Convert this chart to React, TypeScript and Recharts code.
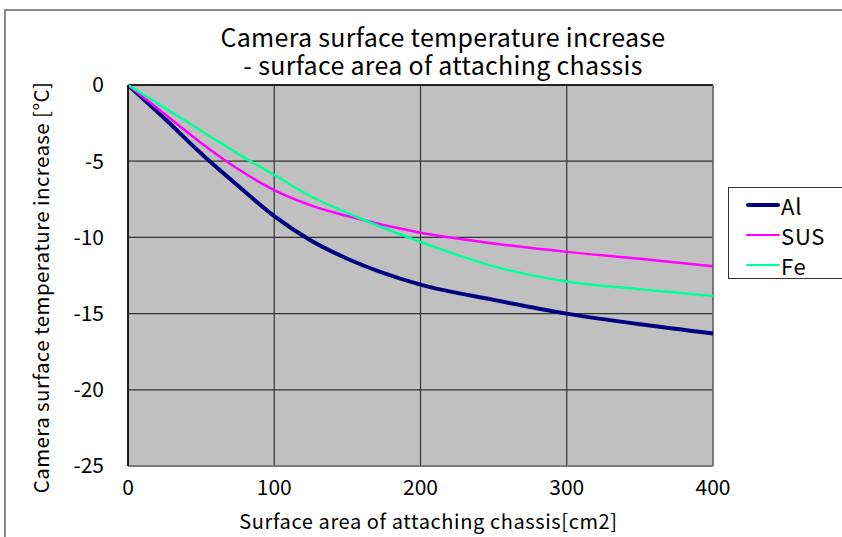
import { LineChart, Line, XAxis, YAxis, CartesianGrid, ReferenceLine } from 'recharts';

// surface area of attaching chassis [cm2]
const areas = [0, 25, 50, 75, 100, 125, 150, 200, 250, 300, 350, 400];
// temperature increase [°C]
const al = [0, -2.2, -4.5, -6.6, -8.6, -10.2, -11.4, -13.1, -14.1, -15.0, -15.7, -16.3];
const sus = [0, -1.9, -3.8, -5.5, -6.9, -7.9, -8.6, -9.7, -10.4, -10.95, -11.4, -11.9];
const fe = [0, -1.5, -3.0, -4.5, -5.9, -7.3, -8.4, -10.3, -11.9, -12.9, -13.4, -13.85];

const xTicks = [0, 100, 200, 300, 400];
const yTicks = [0, -5, -10, -15, -20, -25];

const titleLines = ['Camera surface temperature increase', '- surface area of attaching chassis'];

const series = [
  { key: 'Al', values: al, color: '#000080', width: 4 },
  { key: 'SUS', values: sus, color: '#ff00ff', width: 2.5 },
  { key: 'Fe', values: fe, color: '#00ff99', width: 2.5 },
];

const chartData = areas.map((a, i) => ({
  area: a,
  Al: al[i],
  SUS: sus[i],
  Fe: fe[i],
}));

const FONT = '"Noto Sans CJK JP", "Noto Sans", sans-serif';

const LegendBox = () => (
  <div
    style={{
      position: 'absolute',
      left: 728,
      top: 187,
      border: '1px solid #333',
      background: '#fff',
      width: 130,
      height: 92,
      boxSizing: 'border-box',
      paddingTop: 2,
    }}
  >
    {series.map(s => (
      <div key={s.key} style={{ display: 'flex', alignItems: 'center', height: 30, fontFamily: FONT, fontSize: 22, letterSpacing: 0.8, color: '#000' }}>
        <div style={{ width: 34, height: s.width, background: s.color, borderRadius: 2, marginLeft: 17, marginRight: 1 }} />
        <span>{s.key}</span>
      </div>
    ))}
  </div>
);

const App = () => {
  return (
    <div style={{ position: 'absolute', left: 0, top: 0, width: 842, height: 537, overflow: 'hidden', background: '#fff' }}>
      <div style={{ position: 'absolute', left: 4, top: 9, width: 900, height: 600, border: '2px solid #8a8a8a' }} />
      {titleLines.map((t, i) => (
        <div
          key={i}
          style={{
            position: 'absolute',
            left: 0,
            width: 886,
            top: 22 + i * 28,
            height: 28,
            textAlign: 'center',
            fontFamily: FONT,
            fontSize: 25,
            lineHeight: '28px',
            color: '#000',
            letterSpacing: 0.3,
          }}
        >
          {t}
        </div>
      ))}
      <div style={{ position: 'absolute', left: 0, top: 0 }}>
        <LineChart width={842} height={537} data={chartData} margin={{ top: 85, right: 129, bottom: 0, left: 0 }}>
          <CartesianGrid fill="#c0c0c0" stroke="#333" strokeWidth={1.2} />
          <XAxis
            dataKey="area"
            type="number"
            domain={[0, 400]}
            ticks={xTicks}
            height={71}
            tickLine={false}
            axisLine={{ stroke: '#777', strokeWidth: 1.5 }}
            tick={{ fontFamily: FONT, fontSize: 21, fill: '#000' }}
            tickMargin={8}
            label={{ value: 'Surface area of attaching chassis[cm2]', position: 'insideBottom', offset: 8, dx: 8, style: { fontFamily: FONT, fontSize: 20, letterSpacing: 0.6, fill: '#000' } }}
          />
          <YAxis
            type="number"
            domain={[-25, 0]}
            ticks={yTicks}
            width={128}
            tickLine={false}
            axisLine={{ stroke: '#000', strokeWidth: 1.5 }}
            tick={{ fontFamily: FONT, fontSize: 21, fill: '#000' }}
            tickMargin={18}
            label={{ value: 'Camera surface temperature increase [\u00b0C]', angle: -90, position: 'insideLeft', offset: 42, dy: 12, style: { textAnchor: 'middle', fontFamily: FONT, fontSize: 20.5, letterSpacing: 0.4, fill: '#000' } }}
          />
          <ReferenceLine y={0} stroke="#000" strokeWidth={1.5} />
          <ReferenceLine x={400} stroke="#777" strokeWidth={1.5} />
          {series.map(s => (
            <Line
              key={s.key}
              type="monotone"
              dataKey={s.key}
              stroke={s.color}
              strokeWidth={s.width}
              dot={false}
              isAnimationActive={false}
            />
          ))}
        </LineChart>
      </div>
      <LegendBox />
    </div>
  );
};

export default App;
